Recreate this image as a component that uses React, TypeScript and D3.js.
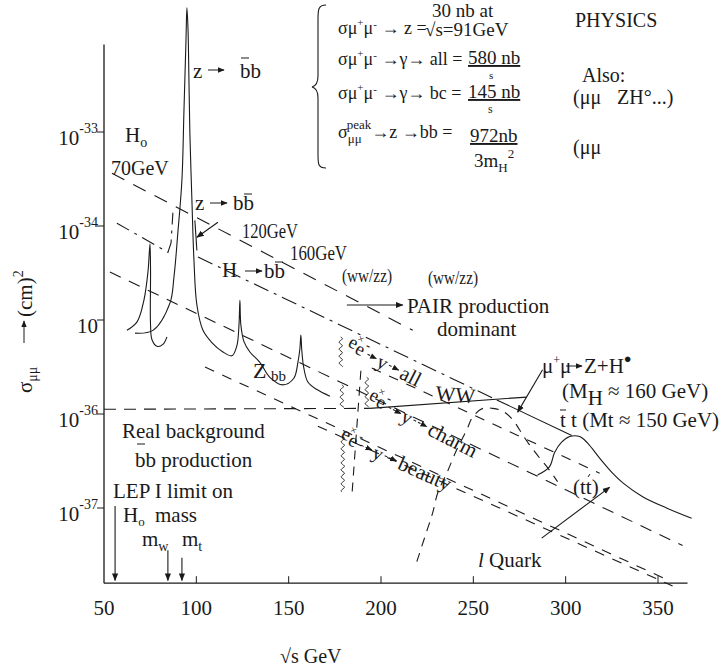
import React from 'react'
import * as d3 from 'd3'

const width = 719
const height = 672

// √s in GeV on x, log10 of σ (cm²) on y
const xTicks = [50, 100, 150, 200, 250, 300, 350]
const yTicks = [-33, -34, -35, -36, -37]
const yTickExp = ['-33', '-34', '', '-36', '-37']
const xEnd = 366
const yBottom = -37.8
const yTop = -32.07

// Z resonance running on into the 120 and 160 GeV Higgs peaks
const zCurveGeV = [66.8, 76.5, 85.7, 87.9, 90.0, 92.2, 93.3, 94.4, 94.9, 95.5, 96.0, 96.5, 97.6, 98.7, 100.3, 103.6, 108.4, 114.4, 119.3, 122.0, 123.1, 123.6, 124.1, 125.8, 129.0, 134.4, 139.8, 146.9, 152.8, 155.0, 156.1, 156.6, 157.1, 158.2, 160.4, 165.3, 172.3]
const zCurveLog = [-35.14, -35.11, -34.82, -34.54, -34.07, -33.51, -32.77, -32.02, -31.68, -31.91, -32.45, -33.01, -33.72, -34.36, -34.84, -35.11, -35.24, -35.34, -35.38, -35.27, -35.05, -34.79, -35.05, -35.23, -35.34, -35.45, -35.61, -35.69, -35.62, -35.45, -35.30, -35.16, -35.32, -35.51, -35.66, -35.74, -35.81]

// 70 GeV Higgs peak
const h70GeV = [62.4, 67.9, 71.6, 73.8, 74.9, 75.2, 75.2, 76.0, 78.7, 81.9, 84.1]
const h70Log = [-35.11, -35.02, -34.79, -34.49, -34.19, -34.47, -35.05, -35.21, -35.28, -35.26, -35.18]

// diagonal cross-section lines
const line70GeV = [54.3, 217.2]
const line70Log = [-33.44, -35.11]
const line120aGeV = [57.0, 84.6, 86.3, 87.3]
const line120aLog = [-33.97, -34.28, -34.18, -33.86]
const line120bGeV = [100.9, 262.7]
const line120bLog = [-34.33, -35.85]
const line120cGeV = [262.7, 303.3]
const line120cLog = [-35.85, -36.23]
const stubGeV = [99.2, 100.3]
const stubLog = [-33.94, -34.26]
const line160GeV = [53.2, 363.3]
const line160Log = [-34.49, -37.40]
const allGeV = [195.0, 318.4]
const allLog = [-35.51, -36.63]
const charmGeV = [104.7, 354.6]
const charmLog = [-35.50, -37.76]
const beautyGeV = [165.8, 357.9]
const beautyLog = [-36.13, -37.83]
const bgGeV = [50, 193.9]
const bgLog = [-35.95, -35.94]
const wwGeV = [193.9, 278.9]
const wwLog = [-35.94, -35.82]
const vertGeV = [189.1, 184.2]
const vertLog = [-35.54, -36.88]

// WW threshold / l quark dashed curve
const quarkGeV = [219.4, 223.7, 228.0, 230.7, 235.6, 241.0, 246.4, 249.7, 255.1, 260.5, 265.9, 271.3, 275.1, 279.4, 284.8, 290.2, 295.6]
const quarkLog = [-37.57, -37.31, -37.05, -36.84, -36.63, -36.38, -36.17, -36.03, -35.94, -35.94, -35.97, -36.06, -36.17, -36.30, -36.44, -36.57, -36.72]

// t tbar threshold bump
const ttGeV = [284.8, 291.3, 294.0, 297.8, 302.2, 307.6, 311.9, 318.4, 325.4, 330.8, 341.7, 354.6, 368.2]
const ttLog = [-36.65, -36.56, -36.41, -36.30, -36.24, -36.24, -36.31, -36.47, -36.63, -36.73, -36.88, -37.00, -37.11]

// photon lines: energy, top, bottom
const photons = [
  [178.2, -35.18, -35.51],
  [178.8, -35.69, -35.94],
  [192.3, -35.61, -35.93],
  [179.3, -36.24, -36.84],
]

// annotation arrows: from energy, from log σ, to energy, to log σ
const arrows = [
  [111.7, -33.96, 100.3, -34.12],
  [181.5, -34.84, 211.8, -34.84],
  [287.5, -35.53, 274.0, -35.98],
  [287.0, -37.32, 323.8, -36.78],
  [56.0, -36.98, 56.0, -37.77],
  [84.6, -37.45, 84.6, -37.77],
  [92.2, -37.53, 92.2, -37.77],
]

const ink = '#1a1a1a'
const serif = "'Liberation Serif', 'DejaVu Serif', 'Times New Roman', serif"

const Chain = ({ tx, ty, angle, label, spread }: any) => (
  <g transform={`translate(${tx},${ty}) rotate(${angle})`}>
    <text x={0} y={0} fontSize={19}>e</text>
    <text x={6} y={-9} fontSize={11}>×</text>
    <text x={9} y={3} fontSize={19}>e</text>
    <text x={17} y={-6} fontSize={13}>-</text>
    <line x1={22} y1={-2} x2={32 + spread} y2={-2} stroke={ink} strokeDasharray="3 2" markerEnd="url(#head)" />
    <text x={34 + spread} y={5} fontSize={20}>y</text>
    <line x1={46 + spread} y1={-2} x2={57 + 2 * spread} y2={-2} stroke={ink} strokeDasharray="3 2" markerEnd="url(#head)" />
    <text x={60 + 2 * spread} y={5} fontSize={21}>{label}</text>
  </g>
)

const Mumu = () => (
  <>σμ<tspan dy={-8} fontSize={11}>+</tspan><tspan dy={8}>μ</tspan><tspan dy={-6} fontSize={11}>-</tspan></>
)

const App = () => {
  const x = d3.scaleLinear().domain([50, 350]).range([104, 658])
  const y = d3.scaleLinear().domain([-33, -37]).range([132, 508])
  const path = (gev: number[], lg: number[], curve: any = d3.curveLinear) =>
    d3.line<number>().x(d => x(d)).y((_, i) => y(lg[i])).curve(curve)(gev) || ''
  const smooth = d3.curveCatmullRom.alpha(0.5)

  const wavy = (gev: number, top: number, bottom: number) => {
    const px = x(gev)
    const y0 = y(top)
    const y1 = y(bottom)
    const pts = d3.range(y0, y1, 1.5).map(v => [px + 2.2 * Math.sin(((v - y0) / 7) * 2 * Math.PI), v] as [number, number])
    return d3.line().curve(d3.curveBasis)(pts) || ''
  }

  const thin = { fill: 'none', stroke: ink, strokeWidth: 1.1 }

  return (
    <svg width={width} height={height} style={{ position: 'absolute', left: 0, top: 0, background: '#fff', fontFamily: serif }}
      fill={ink}>
      <defs>
        <marker id="head" viewBox="0 0 10 10" refX="9" refY="5" markerWidth="7" markerHeight="7" orient="auto">
          <path d="M0,1L10,5L0,9z" fill={ink} />
        </marker>
      </defs>

      {/* axes */}
      <line x1={x(50)} x2={x(xEnd)} y1={y(yBottom)} y2={y(yBottom)} stroke={ink} strokeWidth={1.3} />
      <line x1={x(50)} x2={x(50)} y1={y(yBottom)} y2={y(yTop)} stroke={ink} strokeWidth={1.3} />
      {xTicks.map(t => (
        <g key={t}>
          {t > 50 && <line x1={x(t)} x2={x(t)} y1={y(yBottom)} y2={y(yBottom) - 7} stroke={ink} />}
          <text x={x(t)} y={615} fontSize={21} textAnchor="middle">{t}</text>
        </g>
      ))}
      {yTicks.map((t, i) => (
        <g key={t}>
          <line x1={x(50) - 7} x2={x(50)} y1={y(t)} y2={y(t)} stroke={ink} />
          <text x={98} y={y(t) + 13} fontSize={21} textAnchor="end">
            10{yTickExp[i] && <tspan dy={-12} fontSize={14}>{yTickExp[i]}</tspan>}
          </text>
        </g>
      ))}
      <text x={280} y={663} fontSize={20}>√s GeV</text>
      <g transform="translate(32,393) rotate(-90)">
        <text x={0} y={0} fontSize={21}>σ<tspan dy={5} fontSize={14}>μμ</tspan></text>
        <line x1={50} x2={72} y1={-8} y2={-8} stroke={ink} markerEnd="url(#head)" />
        <text x={76} y={0} fontSize={21}>(cm)<tspan dy={-9} fontSize={14}>2</tspan></text>
      </g>

      {/* curves */}
      <path d={path(zCurveGeV, zCurveLog, smooth)} {...thin} />
      <path d={path(h70GeV, h70Log, smooth)} {...thin} />
      <path d={path(line70GeV, line70Log)} {...thin} strokeDasharray="14 10" />
      <path d={path(line120aGeV, line120aLog)} {...thin} strokeDasharray="14 6 3 6" />
      <path d={path(line120bGeV, line120bLog)} {...thin} strokeDasharray="16 6 3 6" />
      <path d={path(line120cGeV, line120cLog)} {...thin} />
      <path d={path(stubGeV, stubLog)} {...thin} />
      <path d={path(line160GeV, line160Log)} {...thin} strokeDasharray="12 9" />
      <path d={path(allGeV, allLog)} {...thin} strokeDasharray="10 9" />
      <path d={path(charmGeV, charmLog)} {...thin} strokeDasharray="10 9" />
      <path d={path(beautyGeV, beautyLog)} {...thin} strokeDasharray="10 9" />
      <path d={path(bgGeV, bgLog)} {...thin} strokeDasharray="12 8" />
      <path d={path(wwGeV, wwLog)} {...thin} />
      <path d={path(vertGeV, vertLog)} {...thin} strokeDasharray="9 7" />
      <path d={path(quarkGeV, quarkLog, smooth)} {...thin} strokeDasharray="9 7" />
      <path d={path(ttGeV, ttLog, smooth)} {...thin} />
      {photons.map((p, i) => <path key={i} d={wavy(p[0], p[1], p[2])} {...thin} strokeWidth={0.9} />)}
      {arrows.map((a, i) => (
        <line key={i} x1={x(a[0])} y1={y(a[1])} x2={x(a[2])} y2={y(a[3])} stroke={ink} strokeWidth={1.1} markerEnd="url(#head)" />
      ))}

      {/* labels on the left */}
      <text x={193} y={78} fontSize={21}>z</text>
      <line x1={208} x2={224} y1={70} y2={70} stroke={ink} markerEnd="url(#head)" />
      <text x={240} y={78} fontSize={21}>bb</text>
      <line x1={241} x2={249} y1={58} y2={58} stroke={ink} />
      <text x={125} y={142} fontSize={21}>H<tspan dy={5} fontSize={14}>o</tspan></text>
      <text x={111} y={175} fontSize={20}>70GeV</text>
      <text x={195} y={210} fontSize={21}>z</text>
      <line x1={210} x2={227} y1={203} y2={203} stroke={ink} markerEnd="url(#head)" />
      <text x={233} y={210} fontSize={21}>bb</text>
      <line x1={244} x2={252} y1={194} y2={194} stroke={ink} />
      <text x={242} y={238} fontSize={20} textLength={56} lengthAdjust="spacingAndGlyphs">120GeV</text>
      <text x={290} y={260} fontSize={20} textLength={57} lengthAdjust="spacingAndGlyphs">160GeV</text>
      <text x={222} y={277} fontSize={21}>H</text>
      <line x1={245} x2={262} y1={271} y2={271} stroke={ink} markerEnd="url(#head)" />
      <text x={264} y={278} fontSize={21}>bb</text>
      <line x1={275} x2={283} y1={262} y2={262} stroke={ink} />
      <text x={342} y={282} fontSize={19} textLength={50} lengthAdjust="spacingAndGlyphs">(ww/zz)</text>
      <text x={428} y={284} fontSize={19} textLength={50} lengthAdjust="spacingAndGlyphs">(ww/zz)</text>
      <text x={407} y={313} fontSize={21}>PAIR production</text>
      <text x={437} y={336} fontSize={21}>dominant</text>
      <text x={253} y={378} fontSize={22}>Z</text>
      <text x={271} y={381} fontSize={15}>bb</text>

      <Chain tx={347} ty={346} angle={27} label="all" spread={0} />
      <Chain tx={368} ty={399} angle={27} label="charm" spread={4} />
      <Chain tx={340} ty={438} angle={24} label="beauty" spread={2} />
      <text x={435} y={400} fontSize={21} transform="rotate(5,435,400)">WW</text>

      <text x={122} y={438} fontSize={21}>Real background</text>
      <line x1={137} x2={145} y1={444} y2={444} stroke={ink} />
      <text x={135} y={467} fontSize={21}>bb production</text>
      <text x={113} y={498} fontSize={21}>LEP I limit on</text>
      <text x={123} y={522} fontSize={21}>H<tspan dy={4} fontSize={13}>o</tspan></text>
      <text x={155} y={522} fontSize={21}>mass</text>
      <text x={142} y={546} fontSize={21}>m<tspan dy={5} fontSize={14}>w</tspan></text>
      <text x={182} y={546} fontSize={21}>m<tspan dy={5} fontSize={14}>t</tspan></text>

      {/* labels on the right */}
      <text x={542} y={373} fontSize={21}>μ<tspan dy={-9} fontSize={12}>+</tspan><tspan dy={9}>μ</tspan></text>
      <line x1={566} x2={582} y1={366} y2={366} stroke={ink} markerEnd="url(#head)" />
      <text x={584} y={373} fontSize={21}>Z+H<tspan dy={-10} fontSize={13}>●</tspan></text>
      <text x={562} y={398} fontSize={21}>(M<tspan dy={7}>H</tspan><tspan dy={-7}> ≈ 160 GeV)</tspan></text>
      <text x={560} y={427} fontSize={21}>t t (Mt ≈ 150 GeV)</text>
      <line x1={560} x2={566} y1={410} y2={410} stroke={ink} />
      <text x={573} y={494} fontSize={21}>(tt)</text>
      <line x1={588} x2={590} y1={477} y2={474} stroke={ink} />
      <text x={478} y={567} fontSize={21}><tspan fontStyle="italic">l</tspan> Quark</text>

      {/* brace block */}
      <path d="M326,5 C318,5 318,10 318,20 L318,76 C318,83 316,86 312,87 C316,88 318,91 318,98 L318,154 C318,164 318,168 326,168" {...thin} />
      <text x={338} y={34} fontSize={18}><Mumu /><tspan dy={6}> → z =</tspan></text>
      <text x={432} y={17} fontSize={19}>30 nb at</text>
      <text x={425} y={36} fontSize={19}>√s=91GeV</text>
      <text x={338} y={65} fontSize={18}><Mumu /><tspan dy={6}> →γ→ all =</tspan></text>
      <text x={468} y={64} fontSize={19} textDecoration="underline">580 nb</text>
      <text x={489} y={79} fontSize={11}>s</text>
      <text x={338} y={99} fontSize={18}><Mumu /><tspan dy={6}> →γ→ bc  =</tspan></text>
      <text x={468} y={98} fontSize={19} textDecoration="underline">145 nb</text>
      <text x={488} y={113} fontSize={12}>s</text>
      <text x={338} y={138} fontSize={18}>σ<tspan dy={5} fontSize={13}>μμ</tspan><tspan dy={-14} dx={-15} fontSize={13}>peak</tspan><tspan dy={9}>→z →bb =</tspan></text>
      <text x={470} y={142} fontSize={19} textDecoration="underline">972nb</text>
      <text x={474} y={167} fontSize={19}>3m<tspan dy={5} fontSize={13}>H</tspan><tspan dy={-14} fontSize={13}>2</tspan></text>

      <text x={575} y={27} fontSize={20}>PHYSICS</text>
      <text x={582} y={82} fontSize={20}>Also:</text>
      <text x={573} y={104} fontSize={20}>(μμ</text>
      <text x={617} y={104} fontSize={20}>ZH°...)</text>
      <text x={573} y={154} fontSize={20}>(μμ</text>
    </svg>
  )
}

export default App
